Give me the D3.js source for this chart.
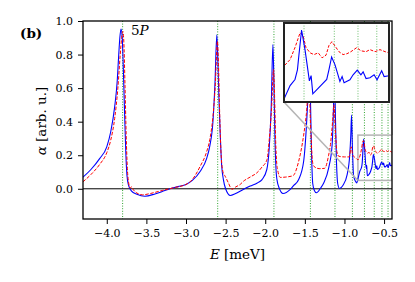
<!DOCTYPE html>
<html><head><meta charset="utf-8">
<script src="https://cdn.jsdelivr.net/npm/d3@7"></script>
<style>body{margin:0;background:#fff}svg{display:block}</style>
</head><body>
<svg id="c" width="415" height="282"></svg>
<script>
// ---- data ----
const blueE = [-4.30,-4.20,-4.09,-4.00,-3.95,-3.90,-3.87,-3.85,-3.835,-3.82,-3.805,-3.79,-3.775,-3.76,-3.745,-3.725,-3.69,-3.62,-3.52,-3.40,-3.30,-3.20,-3.10,-3.00,-2.92,-2.82,-2.74,-2.70,-2.66,-2.635,-2.611,-2.597,-2.585,-2.57,-2.55,-2.528,-2.50,-2.44,-2.38,-2.30,-2.19,-2.10,-2.04,-1.98,-1.95,-1.925,-1.903,-1.89,-1.877,-1.862,-1.852,-1.82,-1.776,-1.684,-1.64,-1.578,-1.515,-1.481,-1.46,-1.443,-1.43,-1.415,-1.40,-1.38,-1.354,-1.30,-1.262,-1.199,-1.156,-1.14,-1.127,-1.115,-1.10,-1.085,-1.063,-1.02,-0.966,-0.933,-0.92,-0.911,-0.90,-0.885,-0.861,-0.845,-0.83,-0.805,-0.785,-0.775,-0.769,-0.758,-0.744,-0.726,-0.719,-0.712,-0.655,-0.646,-0.635,-0.621,-0.601,-0.592,-0.584,-0.56,-0.547,-0.53,-0.515,-0.506,-0.494,-0.478,-0.461,-0.449,-0.43,-0.42,-0.40];
const blueA = [0.069,0.115,0.18,0.25,0.34,0.49,0.63,0.79,0.90,0.952,0.90,0.70,0.45,0.22,0.08,0.02,-0.012,-0.032,-0.044,-0.032,-0.016,0.0,0.013,0.026,0.05,0.105,0.18,0.254,0.40,0.62,0.918,0.75,0.55,0.35,0.14,0.055,0.0,-0.04,-0.03,-0.01,0.016,0.035,0.055,0.115,0.24,0.48,0.859,0.62,0.30,0.10,0.055,0.0,-0.028,-0.004,0.02,0.055,0.164,0.365,0.55,0.72,0.55,0.2,0.03,-0.01,-0.024,0.005,0.035,0.125,0.26,0.45,0.70,0.45,0.15,0.03,0.002,0.02,0.085,0.204,0.32,0.44,0.25,0.08,0.045,0.035,0.06,0.106,0.127,0.16,0.21,0.296,0.229,0.122,0.14,0.078,0.127,0.16,0.204,0.177,0.12,0.137,0.116,0.126,0.143,0.159,0.143,0.153,0.13,0.133,0.143,0.126,0.157,0.137,0.14];
const redE = [-4.30,-4.20,-4.09,-4.00,-3.95,-3.90,-3.86,-3.83,-3.81,-3.797,-3.785,-3.77,-3.755,-3.74,-3.725,-3.705,-3.685,-3.665,-3.62,-3.55,-3.45,-3.30,-3.15,-3.00,-2.94,-2.82,-2.74,-2.70,-2.66,-2.63,-2.603,-2.59,-2.575,-2.555,-2.53,-2.506,-2.465,-2.42,-2.37,-2.316,-2.275,-2.19,-2.106,-2.04,-1.978,-1.95,-1.92,-1.895,-1.882,-1.868,-1.855,-1.844,-1.81,-1.74,-1.65,-1.578,-1.515,-1.48,-1.45,-1.425,-1.405,-1.389,-1.32,-1.25,-1.20,-1.177,-1.15,-1.133,-1.115,-1.095,-1.072,-1.00,-0.94,-0.915,-0.895,-0.86,-0.83,-0.805,-0.785,-0.764,-0.752,-0.74,-0.723,-0.707,-0.69,-0.674,-0.658,-0.646,-0.634,-0.62,-0.605,-0.588,-0.572,-0.556,-0.532,-0.515,-0.494,-0.478,-0.457,-0.437,-0.416,-0.40];
const redA = [0.042,0.085,0.145,0.215,0.29,0.42,0.60,0.80,0.91,0.938,0.88,0.62,0.32,0.12,0.04,0.005,0.012,-0.005,-0.025,-0.036,-0.028,-0.01,0.007,0.026,0.045,0.135,0.22,0.293,0.43,0.62,0.879,0.74,0.45,0.19,0.095,0.075,0.035,-0.003,0.012,0.026,0.045,0.07,0.095,0.13,0.174,0.29,0.48,0.71,0.55,0.28,0.15,0.115,0.068,0.07,0.078,0.164,0.32,0.45,0.62,0.35,0.17,0.135,0.12,0.122,0.2,0.264,0.40,0.50,0.35,0.22,0.194,0.19,0.19,0.25,0.2,0.185,0.173,0.195,0.236,0.287,0.277,0.236,0.218,0.212,0.218,0.201,0.21,0.243,0.256,0.24,0.222,0.212,0.215,0.222,0.236,0.225,0.222,0.229,0.222,0.229,0.222,0.218];
const levels = [-3.80,-2.60,-1.89,-1.43,-1.12,-0.90,-0.748,-0.624,-0.527,-0.45];
const xTicks = [-4.0,-3.5,-3.0,-2.5,-2.0,-1.5,-1.0,-0.5];
const yTicks = [0.0,0.2,0.4,0.6,0.8,1.0];
const xDomain = [-4.3,-0.4], yDomain = [-0.18,1.0];
const zoomX = [-0.83,-0.40], zoomY = [0.05,0.32];

const blue = blueE.map((e,i)=>[e,blueA[i]]);
const red = redE.map((e,i)=>[e,redA[i]]);

const FONT = '"DejaVu Serif", serif';
const svg = d3.select("#c");
const L=83,R=392,T=21,B=219;
const x = d3.scaleLinear(xDomain,[L,R]);
const y = d3.scaleLinear(yDomain,[B,T]);

svg.append("defs").append("clipPath").attr("id","cp").append("rect")
  .attr("x",L).attr("y",T).attr("width",R-L).attr("height",B-T);
const main = svg.append("g").attr("clip-path","url(#cp)");

// level lines
main.selectAll(".lv").data(levels).join("line")
  .attr("x1",d=>x(d)).attr("x2",d=>x(d)).attr("y1",T).attr("y2",B)
  .attr("stroke","#1a9a1a").attr("stroke-width",0.9).attr("stroke-dasharray","1,1.6");
// zero line
main.append("line").attr("x1",L).attr("x2",R).attr("y1",y(0)).attr("y2",y(0))
  .attr("stroke","#000").attr("stroke-width",1);

// zoom marker rect + connectors (under curves)
const ix0=284, ix1=389, iy0=23, iy1=102;
main.append("rect").attr("x",x(zoomX[0])).attr("y",y(zoomY[1]))
  .attr("width",x(zoomX[1])-x(zoomX[0])).attr("height",y(zoomY[0])-y(zoomY[1]))
  .attr("fill","none").attr("stroke","#b4b4b4").attr("stroke-width",1.5);
svg.append("line").attr("x1",ix0).attr("y1",iy1).attr("x2",x(zoomX[0])).attr("y2",y(zoomY[0]))
  .attr("stroke","#b4b4b4").attr("stroke-width",1.5);
svg.append("line").attr("x1",ix1).attr("y1",iy0).attr("x2",x(zoomX[1])).attr("y2",y(zoomY[1]))
  .attr("stroke","#b4b4b4").attr("stroke-width",1.5);

const line = d3.line().x(d=>x(d[0])).y(d=>y(d[1])).curve(d3.curveMonotoneX);
main.append("path").attr("d",line(blue)).attr("fill","none").attr("stroke","#0000ff").attr("stroke-width",1.1);
main.append("path").attr("d",line(red)).attr("fill","none").attr("stroke","#ff0000").attr("stroke-width",1)
  .attr("stroke-dasharray","3.5,1.6");

// axes
const ax = svg.append("g").attr("transform",`translate(0,${B})`)
  .call(d3.axisBottom(x).tickValues(xTicks).tickFormat(d3.format(".1f")).tickSize(5).tickPadding(5));
const ay = svg.append("g").attr("transform",`translate(${L},0)`)
  .call(d3.axisLeft(y).tickValues(yTicks).tickFormat(d3.format(".1f")).tickSize(5).tickPadding(5));
[ax,ay].forEach(g=>{
  g.attr("font-family",FONT).attr("font-size",11);
  g.select(".domain").remove();
  g.selectAll("line").attr("stroke","#000").attr("stroke-width",1);
  g.selectAll("text").attr("fill","#000");
});
svg.append("rect").attr("x",L).attr("y",T).attr("width",R-L).attr("height",B-T)
  .attr("fill","none").attr("stroke","#000").attr("stroke-width",1.3);

// inset
const xi = d3.scaleLinear(zoomX,[ix0,ix1]);
const yi = d3.scaleLinear(zoomY,[iy1,iy0]);
svg.append("rect").attr("x",ix0).attr("y",iy0).attr("width",ix1-ix0).attr("height",iy1-iy0).attr("fill","#fff");
svg.select("defs").append("clipPath").attr("id","ci").append("rect")
  .attr("x",ix0).attr("y",iy0).attr("width",ix1-ix0).attr("height",iy1-iy0);
const ins = svg.append("g").attr("clip-path","url(#ci)");
ins.selectAll(".lv").data(levels).join("line")
  .attr("x1",d=>xi(d)).attr("x2",d=>xi(d)).attr("y1",iy0).attr("y2",iy1)
  .attr("stroke","#1a9a1a").attr("stroke-width",0.9).attr("stroke-dasharray","1,1.6").attr("opacity",0.7);
const linei = d3.line().x(d=>xi(d[0])).y(d=>yi(d[1])).curve(d3.curveLinear);
const bIn = blue.filter(d=>d[0]>=-0.86), rIn = red.filter(d=>d[0]>=-0.87);
ins.append("path").attr("d",linei(rIn)).attr("fill","none").attr("stroke","#ff0000").attr("stroke-width",1)
  .attr("stroke-dasharray","3,1.6");
ins.append("path").attr("d",linei(bIn)).attr("fill","none").attr("stroke","#0000ff").attr("stroke-width",1.1);
svg.append("rect").attr("x",ix0).attr("y",iy0).attr("width",ix1-ix0).attr("height",iy1-iy0)
  .attr("fill","none").attr("stroke","#222").attr("stroke-width",2);

// labels
svg.append("text").attr("x",20).attr("y",38).attr("font-family",FONT).attr("font-weight","bold")
  .attr("font-size",13.5).text("(b)");
svg.append("text").attr("x",131).attr("y",35).attr("font-family",FONT).attr("font-size",13.5)
  .html("5<tspan font-style='italic'>P</tspan>");
svg.append("text").attr("x",(L+R)/2).attr("y",259).attr("text-anchor","middle").attr("font-family",FONT)
  .attr("font-size",13.5).html("<tspan font-style='italic'>E</tspan> [meV]");
svg.append("text").attr("transform","translate(46,121) rotate(-90)").attr("text-anchor","middle")
  .attr("font-family",FONT).attr("font-size",13.5).html("<tspan font-style='italic'>α</tspan> [arb. u.]");
</script>
</body></html>
